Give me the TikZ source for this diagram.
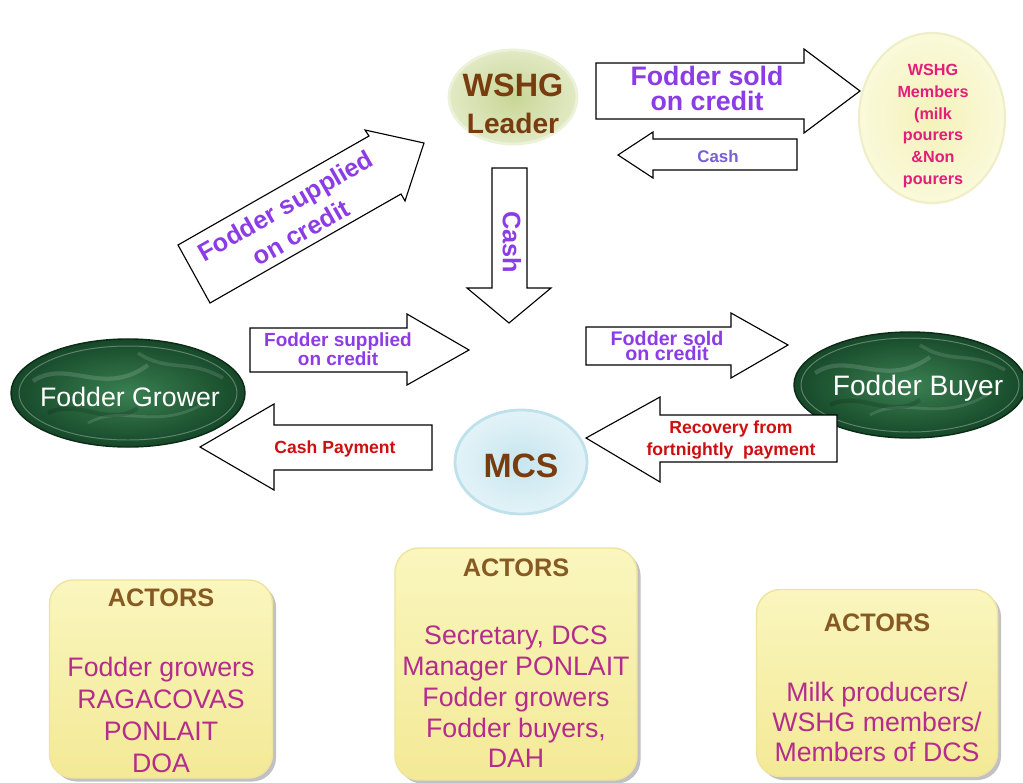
\documentclass[tikz,border=0pt]{standalone}
\usepackage{fontspec}
\setmainfont{Liberation Sans}
\usepackage{xcolor}
\usepackage{tikz}
\usetikzlibrary{shapes.geometric,shadows,positioning}

\definecolor{txtpurple}{RGB}{140,60,230}
\definecolor{cashblue}{RGB}{120,95,215}
\definecolor{txtred}{RGB}{205,15,15}
\definecolor{txtpink}{RGB}{228,30,120}
\definecolor{txtmag}{RGB}{180,45,140}
\definecolor{brownA}{RGB}{120,60,15}
\definecolor{brownB}{RGB}{135,90,35}
\definecolor{marbleA}{RGB}{58,128,82}
\definecolor{marbleB}{RGB}{22,72,40}
\definecolor{boxtop}{RGB}{250,246,190}
\definecolor{boxbot}{RGB}{243,233,150}
\newcommand{\fsz}[2]{\fontsize{#1}{#2}\selectfont}

\begin{document}
\begin{tikzpicture}[x=0.025cm,y=-0.025cm,
  barrow/.style={draw=black,fill=white,line width=0.8pt,line join=miter},
  blob/.style={ellipse,inner sep=0pt},
  marble/.style={blob,draw={rgb,255:red,12;green,42;blue,22},line width=1pt,
    inner color=marbleA,outer color=marbleB,
    path picture={
      \begin{scope}[shift={(path picture bounding box.center)}]
        \draw[white,opacity=0.3,line width=0.7pt] (0,0) ellipse (109 and 47);
        \draw[white,opacity=0.14,line width=3pt] (-95,-12) .. controls (-60,-35) and (-25,5) .. (20,-28);
        \draw[white,opacity=0.12,line width=2pt] (-40,30) .. controls (-5,10) and (30,40) .. (80,8);
        \draw[white,opacity=0.12,line width=2.5pt] (10,-40) .. controls (40,-20) and (60,-35) .. (95,-15);
        \draw[black,opacity=0.15,line width=3pt] (-80,20) .. controls (-50,5) and (-20,35) .. (10,15);
      \end{scope}}},
  actorbox/.style={rectangle,rounded corners=0.6cm,top color=boxtop,bottom color=boxbot,
    draw={rgb,255:red,238;green,228;blue,160},line width=1pt,
    drop shadow={shadow xshift=2.5pt,shadow yshift=-2.5pt,opacity=0.35,fill=black!70}},
  title/.style={font={\fsz{18}{20}\bfseries},text=brownB},
  members/.style={align=center,font={\fsz{19}{22}},text=txtmag}]
\useasboundingbox (0,0) rectangle (1023,782);

% ellissi
\node[blob,minimum width=3.2cm,minimum height=2.35cm,draw={rgb,255:red,236;green,241;blue,218},line width=2pt,
  inner color={rgb,255:red,200;green,214;blue,150},outer color={rgb,255:red,226;green,233;blue,196}] (leader) at (513,97) {};
\node[font={\fsz{23}{24}\bfseries},text=brownA] (leaderA) at (513,85) {WSHG};
\node[font={\fsz{20}{22}\bfseries},text=brownA] (leaderB) at (513,123) {Leader};

\node[blob,minimum width=3.65cm,minimum height=4.25cm,draw={rgb,255:red,240;green,238;blue,200},line width=1.5pt,
  inner color={rgb,255:red,244;green,242;blue,185},outer color={rgb,255:red,250;green,249;blue,218}] (wmembers) at (932,118) {};
\node[align=center,font={\fsz{11.5}{15.4}\bfseries},text=txtpink] (wmembersTxt) at (933,126)
  {WSHG\\Members\\(milk\\pourers\\\&Non\\pourers};

\node[marble,minimum width=5.85cm,minimum height=2.7cm] (grower) at (128,393) {};
\node[font={\fsz{19}{22}},text=white] (growerTxt) at (130,397) {Fodder Grower};

\node[marble,minimum width=5.8cm,minimum height=2.65cm] (buyer) at (910,385) {};
\node[font={\fsz{20}{22}},text=white] (buyerTxt) at (918,388) {Fodder Buyer};

\node[blob,minimum width=3.3cm,minimum height=2.6cm,draw={rgb,255:red,190;green,225;blue,235},line width=2pt,
  inner color={rgb,255:red,200;green,229;blue,238},outer color={rgb,255:red,226;green,243;blue,248}] (mcs) at (521,462) {};
\node[font={\fsz{24}{26}\bfseries},text=brownA] (mcsTxt) at (521,466) {MCS};

% frecce a blocco
\draw[barrow] (596,63)--(804,63)--(804,49)--(860,91)--(804,133)--(804,119)--(596,119)--cycle;
\node[align=center,font={\fsz{19}{17.8}\bfseries},text=txtpurple] (soldTop) at (707,88) {Fodder sold\\on credit};

\draw[barrow] (797,139)--(653,139)--(653,132)--(618,155)--(653,178)--(653,170)--(797,170)--cycle;
\node[font={\fsz{12}{14}\bfseries},text=cashblue] (cashTop) at (718,156) {Cash};

\draw[barrow] (178,245)--(369,136)--(365,130)--(424,143)--(405,201)--(401,194)--(210,303)--cycle;
\node[rotate=29.7,align=center,font={\fsz{18}{22}\bfseries},text=txtpurple] (suppDiag) at (293,219) {Fodder supplied\\on credit};

\draw[barrow] (492,168)--(527,168)--(527,288)--(551,288)--(509,323)--(467,288)--(492,288)--cycle;
\node[rotate=-90,font={\fsz{18}{20}\bfseries},text=txtpurple] (cashDown) at (512,242) {Cash};

\draw[barrow] (250,328)--(407,328)--(407,314)--(469,350)--(407,385)--(407,372)--(250,372)--cycle;
\node[align=center,font={\fsz{13.5}{10.7}\bfseries},text=txtpurple] (suppMid) at (338,349) {Fodder supplied\\on credit};

\draw[barrow] (432,425)--(274,425)--(274,404)--(200,447)--(274,490)--(274,470)--(432,470)--cycle;
\node[font={\fsz{12.5}{14}\bfseries},text=txtred] (cashPay) at (335,449) {Cash Payment};

\draw[barrow] (586,327)--(731,327)--(731,313)--(788,345)--(731,378)--(731,365)--(586,365)--cycle;
\node[align=center,font={\fsz{14}{10}\bfseries},text=txtpurple] (soldMid) at (667,346) {Fodder sold\\on credit};

\draw[barrow] (837,415)--(660,415)--(660,397)--(586,438)--(660,482)--(660,462)--(837,462)--cycle;
\node[align=center,font={\fsz{12.5}{15.6}\bfseries},text=txtred] (recov) at (731,440) {Recovery from\\fortnightly~ payment};

% attori
\node[actorbox,minimum width=5.575cm,minimum height=4.95cm] (actorsA) at (161,679) {};
\node[title] (titleA) at (161,598) {ACTORS};
\node[members,font={\fsz{19}{22.8}}] (listA) at (161,715) {Fodder growers\\RAGACOVAS\\PONLAIT\\DOA};

\node[actorbox,minimum width=6.05cm,minimum height=5.8cm] (actorsB) at (516,664) {};
\node[title] (titleB) at (516,568) {ACTORS};
\node[members,font={\fsz{19}{21.9}}] (listB) at (516,697) {Secretary, DCS\\Manager PONLAIT\\Fodder growers\\Fodder buyers,\\DAH};

\node[actorbox,minimum width=6.025cm,minimum height=4.675cm] (actorsC) at (877,683) {};
\node[title] (titleC) at (877,623) {ACTORS};
\node[members,font={\fsz{19}{21.3}}] (listC) at (877,722) {Milk producers/\\WSHG members/\\Members of DCS};
\end{tikzpicture}
\end{document}
